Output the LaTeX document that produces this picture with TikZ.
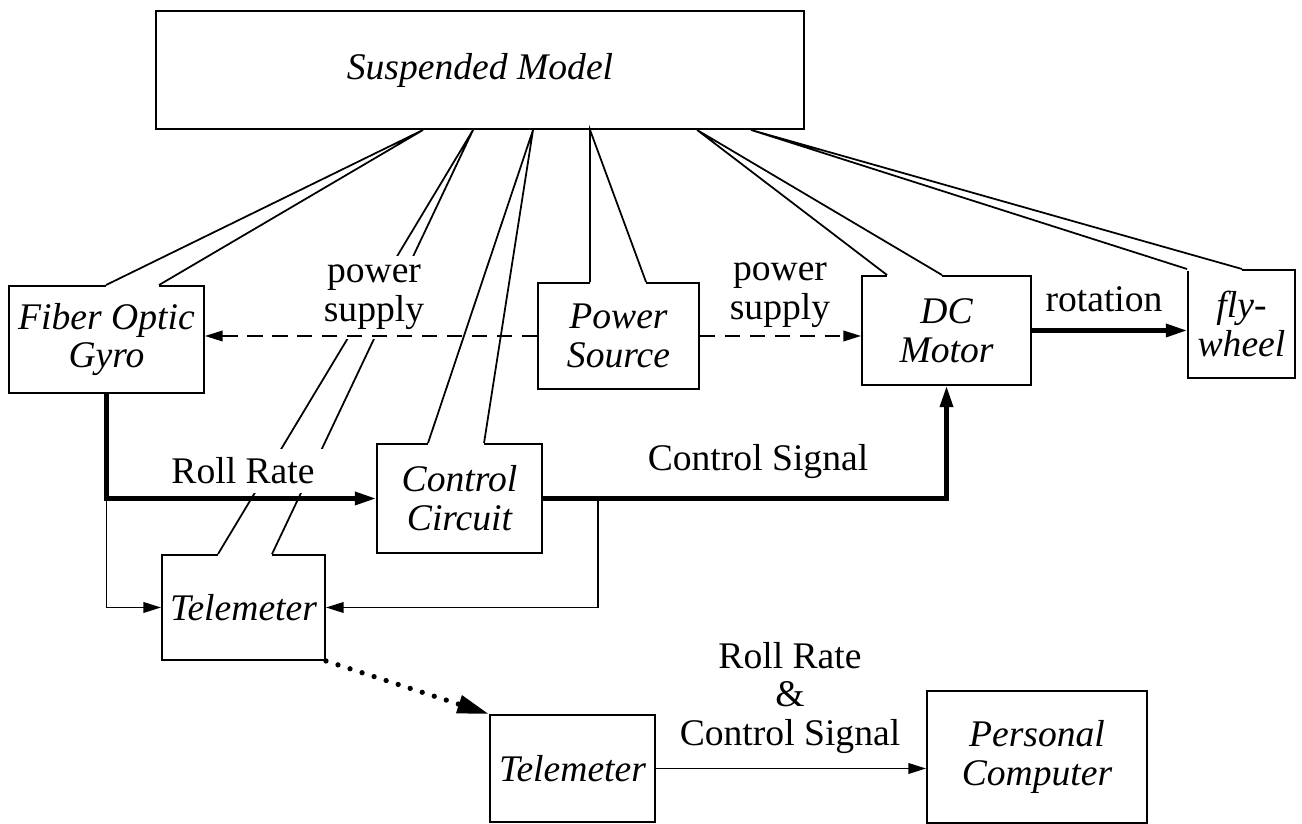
\documentclass[tikz,border=0pt]{standalone}
\usepackage{fontspec}
\setmainfont{Liberation Serif}
\usepackage{tikz}
\usetikzlibrary{positioning, arrows.meta, calc}

\begin{document}
\begin{tikzpicture}[
			font=\fontsize{10.7}{11}\selectfont,
			block/.style={rectangle, draw, line width=0.55pt, inner sep=0pt, align=center,
				font=\fontsize{10.7}{11}\selectfont\itshape},
			cable/.style={line width=0.5pt},
			opening/.style={draw=white, line width=1.1pt},
			flow/.style={-{Triangle[length=6pt, width=3.6pt]}, line width=1.2pt},
			wire/.style={-{Triangle[length=5pt, width=3pt]}, line width=0.5pt},
			power/.style={wire, dash pattern=on 4.3pt off 2.8pt},
			radio/.style={-{Triangle[length=9pt, width=5pt]}, line width=1.5pt,
				dash pattern=on 0pt off 3.6pt, line cap=round},
			note/.style={align=center, fill=white, inner sep=2.5pt}
			]
			
			\useasboundingbox (0,0) rectangle (13.02,-8.24);
			
			% Блоки
			\node[block, minimum width=6.48cm, minimum height=1.18cm] (model) at (4.80,-0.70) {Suspended Model};
			\node[block, minimum width=1.95cm, minimum height=1.07cm] (gyro) at (1.065,-3.395) {Fiber Optic\\Gyro};
			\node[block, minimum width=1.61cm, minimum height=1.06cm] (source) at (6.185,-3.36) {Power\\Source};
			\node[block, minimum width=1.69cm, minimum height=1.09cm] (motor) at (9.465,-3.305) {DC\\Motor};
			\node[block, minimum width=1.07cm, minimum height=1.08cm] (wheel) at (12.415,-3.24) {fly-\\wheel};
			\node[block, minimum width=1.65cm, minimum height=1.09cm] (circuit) at (4.595,-4.985) {Control\\Circuit};
			\node[block, minimum width=1.63cm, minimum height=1.05cm] (telemA) at (2.435,-6.075) {Telemeter};
			\node[block, minimum width=1.65cm, minimum height=1.07cm] (telemB) at (5.725,-7.685) {Telemeter};
			\node[block, minimum width=2.20cm, minimum height=1.32cm] (pc) at (10.37,-7.57) {Personal\\Computer};
			
			% Кабели от модели к блокам (вход в блок через верхнюю грань)
			\foreach \sx/\blk/\ax/\bx in {2.68/gyro/0.98/1.51, 3.18/telemA/0.57/1.11,
				3.78/circuit/0.52/1.08, 4.35/source/0.53/1.09,
				5.42/motor/0.26/0.81, 5.96/wheel/0/0.55}
			{
				\draw[opening] ([xshift=\ax cm]\blk.north west) -- ([xshift=\bx cm]\blk.north west);
				\draw[cable] ([xshift=\ax cm]\blk.north west) -- ([xshift=\sx cm]model.south west)
					-- ([xshift=\bx cm]\blk.north west);
			}
			
			% Подписи
			\node[note] (psleft) at (3.74,-2.975) {power\\supply};
			\node[note] (psright) at (7.80,-2.95) {power\\supply};
			\node[note] (rollrate) at (2.43,-4.71) {Roll Rate};
			\node[note] (ctrlsig) at (7.58,-4.62) {Control Signal};
			\node[note] (rot) at (11.04,-2.99) {rotation};
			\node[note] (link) at (7.90,-6.98) {Roll Rate\\\&\\Control Signal};
			
			% Питание
			\draw[power] (source.west) -- (source.west -| gyro.east);
			\draw[power] (source.east) -- (source.east -| motor.west);
			
			% Сигналы управления
			\draw[flow] (gyro.south) |- (circuit.west);
			\draw[flow] (circuit.east) -| (motor.south);
			\draw[flow] (motor.east) -- (motor.east -| wheel.west);
			
			% Отводы на телеметр
			\coordinate (tapA) at (gyro.south |- circuit.west);
			\coordinate (tapB) at ([xshift=0.55cm]circuit.east);
			\draw[wire] (tapA) |- (telemA.west);
			\draw[wire] (tapB) |- (telemA.east);
			
			% Радиоканал и ПК
			\draw[radio] (telemA.south east) -- (telemB.north west);
			\draw[wire] (telemB.east) -- (telemB.east -| pc.west);
			
		\end{tikzpicture}
\end{document}
